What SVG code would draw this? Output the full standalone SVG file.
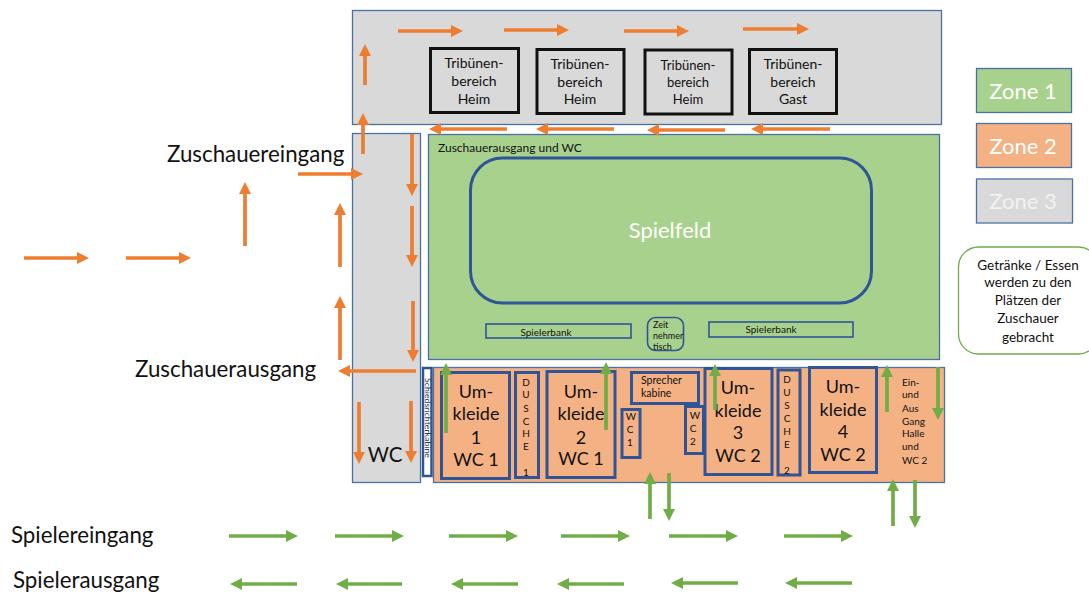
<svg xmlns="http://www.w3.org/2000/svg" width="1089" height="598" viewBox="0 0 1089 598">
<style>
text{font-family:Lato,"Open Sans","Liberation Sans",sans-serif;fill:#111;text-anchor:middle}
text.s{text-anchor:start}
.z{stroke:#4a70a8;stroke-width:1.3}
.g{fill:#d9d9d9}.a{fill:#a9d18e}.o{fill:#f4b183}
.t{fill:#d9d9d9;stroke:#111;stroke-width:3}
.b{fill:none;stroke:#2f5597;stroke-width:3}
.b2{fill:none;stroke:#2f5597;stroke-width:1.6}
.or{stroke:#ed7d31;stroke-width:3.7;fill:none;marker-end:url(#mo)}
.gr{stroke:#70ad47;stroke-width:3.7;fill:none;marker-end:url(#mg)}
.big{font-size:18px}.tb{font-size:14px}.sm{font-size:10px}
.lab{font-size:22.300px}
.zn{font-size:22px;fill:#fff}
.nt{font-size:13.500px}
</style>
<defs>
<marker id="mo" markerUnits="userSpaceOnUse" markerWidth="14" markerHeight="14" refX="1" refY="6" orient="auto"><path d="M0 0L12 6L0 12z" fill="#ed7d31"/></marker>
<marker id="mg" markerUnits="userSpaceOnUse" markerWidth="14" markerHeight="14" refX="1" refY="6" orient="auto"><path d="M0 0L12 6L0 12z" fill="#70ad47"/></marker>
</defs>
<g id="zone3-top"><rect class="z g" x="352.500" y="10.500" width="589" height="114"/></g>
<g id="zone3-side"><rect class="z g" x="352.500" y="133.500" width="68" height="349"/><text style="font-size:20.500px" x="385" y="462">WC</text></g>
<g id="zone1-field"><rect class="z a" x="428.500" y="134.500" width="511" height="225"/><text class="s" style="font-size:12px" x="438" y="152">Zuschauerausgang und WC</text></g>
<g id="zone2"><rect class="z o" x="433.500" y="367.500" width="511" height="115"/></g>
<g id="spielfeld"><rect class="b" x="470.500" y="158" width="401" height="145" rx="32"/><text x="670" y="238" style="font-size:22px;fill:#fff">Spielfeld</text></g>
<g id="trib1"><rect class="t" x="430.500" y="48.500" width="88" height="64"/><text class="tb" x="474" y="68">Tribünen-</text><text class="tb" x="474" y="86">bereich</text><text class="tb" x="474" y="104">Heim</text></g>
<g id="trib2"><rect class="t" x="537" y="49.500" width="87" height="64"/><text class="tb" x="580" y="69">Tribünen-</text><text class="tb" x="580" y="87">bereich</text><text class="tb" x="580" y="104">Heim</text></g>
<g id="trib3"><rect class="t" x="645" y="50" width="87" height="64"/><text class="tb" x="688" y="70" style="font-size:13px">Tribünen-</text><text class="tb" x="688" y="87" style="font-size:13px">bereich</text><text class="tb" x="688" y="104" style="font-size:13px">Heim</text></g>
<g id="trib4"><rect class="t" x="749.500" y="49.500" width="87" height="64"/><text class="tb" x="793" y="69">Tribünen-</text><text class="tb" x="793" y="87">bereich</text><text class="tb" x="793" y="104">Gast</text></g>
<g id="bank1"><rect class="b2" x="486" y="324" width="145" height="14"/><text class="sm" x="546" y="336">Spielerbank</text></g>
<g id="bank2"><rect class="b2" x="709" y="322" width="144" height="15"/><text class="sm" x="771" y="333">Spielerbank</text></g>
<g id="zeit"><rect class="b2" x="647.500" y="317.500" width="36" height="33" rx="8"/><text class="s" x="653" y="328" style="font-size:9px">Zeit</text><text class="s" x="653" y="339" style="font-size:9px">nehmer</text><text class="s" x="653" y="350" style="font-size:9px">tisch</text></g>
<g id="schied"><rect x="423" y="368" width="8.500" height="108" fill="#fff" stroke="#2f5597" stroke-width="2.500"/><text transform="translate(425 418) rotate(90)" style="font-size:8px;fill:#333" textLength="80" lengthAdjust="spacingAndGlyphs">Schiedsrichterkabine</text></g>
<g id="um1"><rect class="b" x="441.500" y="372.500" width="68" height="106"/><text class="big" x="476" y="398">Um-</text><text class="big" x="476" y="420">kleide</text><text class="big" x="476" y="444">1</text><text class="big" x="476" y="466">WC 1</text></g>
<g id="du1"><rect class="b" x="515.500" y="372.500" width="23" height="105"/><text class="sm" x="526" y="386">D</text><text class="sm" x="526" y="398">U</text><text class="sm" x="526" y="412">S</text><text class="sm" x="526" y="425">C</text><text class="sm" x="526" y="437">H</text><text class="sm" x="526" y="450">E</text><text class="sm" x="526" y="476">1</text></g>
<g id="um2"><rect class="b" x="547" y="371.500" width="68" height="106"/><text class="big" x="581" y="398">Um-</text><text class="big" x="581" y="420">kleide</text><text class="big" x="581" y="444">2</text><text class="big" x="581" y="465">WC 1</text></g>
<g id="wc1"><rect class="b" x="622" y="409.500" width="18" height="48"/><text class="sm" x="631" y="420">W</text><text class="sm" x="630" y="433">C</text><text class="sm" x="630" y="446">1</text></g>
<g id="sprecher"><rect class="b" x="631.500" y="372.500" width="67" height="31"/><text class="s" x="641" y="384" style="font-size:10.500px">Sprecher</text><text class="s" x="641" y="397" style="font-size:10.500px">kabine</text></g>
<g id="wc2"><rect class="b" x="685.500" y="406.500" width="18" height="47"/><text class="sm" x="695" y="419">W</text><text class="sm" x="693" y="432">C</text><text class="sm" x="693" y="445">2</text></g>
<g id="um3"><rect class="b" x="705" y="368.500" width="67" height="106"/><text class="big" x="738" y="394">Um-</text><text class="big" x="738" y="417">kleide</text><text class="big" x="738" y="439">3</text><text class="big" x="738" y="462">WC 2</text></g>
<g id="du2"><rect class="b" x="778" y="370" width="22" height="105"/><text class="sm" x="787" y="383">D</text><text class="sm" x="787" y="396">U</text><text class="sm" x="787" y="409">S</text><text class="sm" x="787" y="422">C</text><text class="sm" x="787" y="435">H</text><text class="sm" x="787" y="448">E</text><text class="sm" x="787" y="474">2</text></g>
<g id="um4"><rect class="b" x="809.500" y="367.500" width="67" height="105"/><text class="big" x="843" y="393">Um-</text><text class="big" x="843" y="416">kleide</text><text class="big" x="843" y="438">4</text><text class="big" x="843" y="461">WC 2</text></g>
<g id="einaus"><text class="sm s" x="902" y="386">Ein-</text><text class="sm s" x="902" y="398">und</text><text class="sm s" x="902" y="412">Aus</text><text class="sm s" x="902" y="425">Gang</text><text class="sm s" x="902" y="437">Halle</text><text class="sm s" x="902" y="450">und</text><text class="sm s" x="902" y="464">WC 2</text></g>
<g id="legend1"><rect class="z a" x="976.500" y="68.500" width="95" height="44"/><text class="zn" x="1023" y="99">Zone 1</text></g>
<g id="legend2"><rect class="z o" x="976.500" y="123.500" width="95" height="44"/><text class="zn" x="1023" y="154">Zone 2</text></g>
<g id="legend3"><rect class="z g" x="976.500" y="179" width="96" height="44"/><text class="zn" x="1023" y="209" style="fill:#f2f2f2">Zone 3</text></g>
<g id="note"><rect x="958.500" y="247" width="140" height="107" rx="20" fill="#fff" stroke="#70ad47" stroke-width="1.300"/><text class="nt" x="1028" y="270">Getränke / Essen</text><text class="nt" x="1028" y="287">werden zu den</text><text class="nt" x="1028" y="305">Plätzen der</text><text class="nt" x="1028" y="323">Zuschauer</text><text class="nt" x="1028" y="342">gebracht</text></g>
<g id="labels">
<text class="lab s" x="167" y="162">Zuschauereingang</text>
<text class="lab s" x="135" y="377">Zuschauerausgang</text>
<text class="lab s" x="11" y="543">Spielereingang</text>
<text class="lab s" x="13" y="588">Spielerausgang</text>
</g>
<g id="connectors">
<path class="or" d="M398 31H452"/><path class="or" d="M504 30H558"/><path class="or" d="M624 31H678"/><path class="or" d="M743 29H798"/>
<path class="or" d="M365 85V55"/><path class="or" d="M363 154V124"/>
<path class="or" d="M507 129H440"/><path class="or" d="M614 129H547"/><path class="or" d="M725 130H658"/><path class="or" d="M830 129H762"/>
<path class="or" d="M412 134V185"/><path class="or" d="M412 206V256"/><path class="or" d="M413 301V351"/>
<path class="or" d="M298 174H352"/><path class="or" d="M245 246V193"/>
<path class="or" d="M24 258H78"/><path class="or" d="M126 258H180"/>
<path class="or" d="M340 267V214"/><path class="or" d="M340 360V307"/><path class="or" d="M416 371H349"/>
<path class="or" d="M359 402V453"/><path class="or" d="M411 401V452"/>
<path class="gr" d="M446 433V374"/><path class="gr" d="M606 430V373"/><path class="gr" d="M715 410V375"/>
<path class="gr" d="M887 412V376"/><path class="gr" d="M938 367V409"/>
<path class="gr" d="M650 519V483"/><path class="gr" d="M669 473V510"/>
<path class="gr" d="M893 526V490"/><path class="gr" d="M915 480V517"/>
<path class="gr" d="M229 536H287"/><path class="gr" d="M335 536H393"/><path class="gr" d="M449 536H507"/><path class="gr" d="M561 536H619"/><path class="gr" d="M669 536H727"/><path class="gr" d="M784 536H842"/>
<path class="gr" d="M297 584H241"/><path class="gr" d="M402 584H347"/><path class="gr" d="M518 584H462"/><path class="gr" d="M624 584H568"/><path class="gr" d="M738 583H682"/><path class="gr" d="M852 583H796"/>
</g>
</svg>
